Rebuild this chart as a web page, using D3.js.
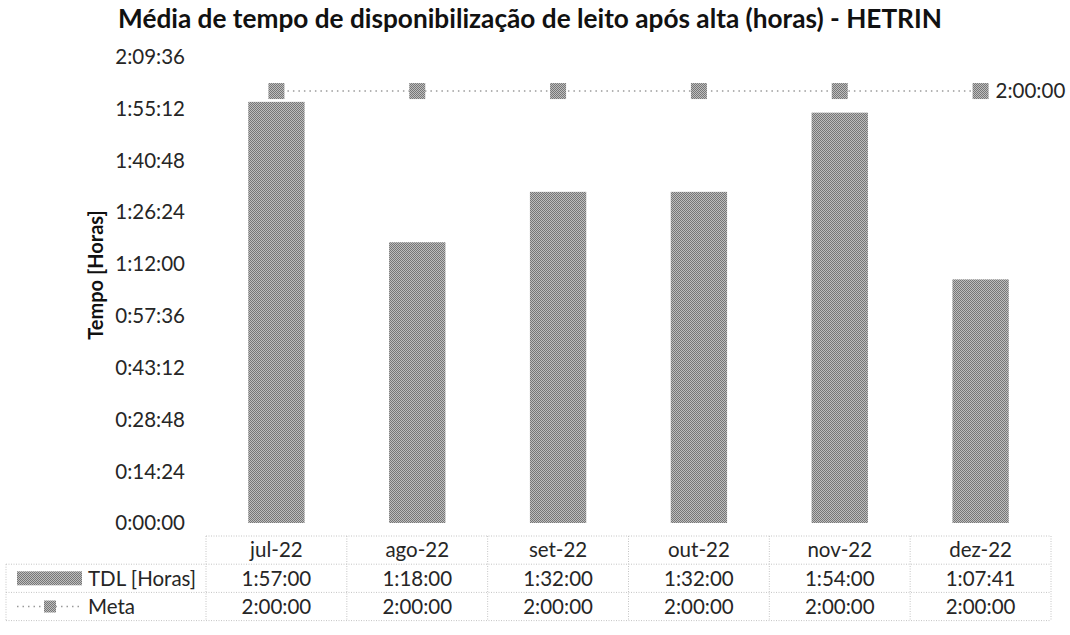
<!DOCTYPE html>
<html>
<head>
<meta charset="utf-8">
<script src="https://cdn.jsdelivr.net/npm/d3@7"></script>
<style>
  html, body { margin: 0; padding: 0; background: #fff; }
  svg { display: block; font-family: Lato, "Open Sans", sans-serif; }
</style>
</head>
<body>
<svg id="chart" width="1070" height="635"></svg>
<script>
// Monthly averages, in seconds
const months = ["jul-22", "ago-22", "set-22", "out-22", "nov-22", "dez-22"];
const tdlSeconds = [7020, 4680, 5520, 5520, 6840, 4061];
const metaSeconds = [7200, 7200, 7200, 7200, 7200, 7200];
const yTickSeconds = [0, 864, 1728, 2592, 3456, 4320, 5184, 6048, 6912, 7776];
const seriesNames = ["TDL [Horas]", "Meta"];

const fmt = s => {
  const h = Math.floor(s / 3600), m = Math.floor((s % 3600) / 60), sec = Math.round(s % 60);
  return h + ":" + String(m).padStart(2, "0") + ":" + String(sec).padStart(2, "0");
};

const svg = d3.select("#chart");
const plotLeft = 206, plotRight = 1051, plotBottom = 523, plotTop = 56.5;
const textColor = "#262626";

// halftone-like fill for bars and markers
const defs = svg.append("defs");
const pat = defs.append("pattern").attr("id", "tone").attr("patternUnits", "userSpaceOnUse")
  .attr("width", 2).attr("height", 2);
pat.append("rect").attr("width", 2).attr("height", 2).attr("fill", "#bdbdbd");
pat.append("rect").attr("width", 1).attr("height", 1).attr("fill", "#767676");
pat.append("rect").attr("x", 1).attr("y", 1).attr("width", 1).attr("height", 1).attr("fill", "#767676");

const x = d3.scaleBand().domain(months).range([plotLeft, plotRight]).paddingInner(0.6).paddingOuter(0.3);
const y = d3.scaleLinear().domain([0, 7776]).range([plotBottom, plotTop]);
const step = x.step();
const colLeft = i => plotLeft + i * step;

// fit a text element to a target width by adjusting font size
function fit(sel, target) {
  const node = sel.node();
  const fs = parseFloat(sel.attr("font-size"));
  const w = node.getComputedTextLength();
  if (w > 0) sel.attr("font-size", (fs * target / w).toFixed(2));
  return sel;
}

// title
fit(svg.append("text").attr("x", 530).attr("y", 28).attr("text-anchor", "middle")
  .attr("font-size", 20).attr("font-weight", "bold").attr("fill", "#111")
  .text("Média de tempo de disponibilização de leito após alta (horas) - HETRIN"), 824);

// y axis
const yAxis = svg.append("g").attr("transform", `translate(${plotLeft - 21},0)`)
  .call(d3.axisLeft(y).tickValues(yTickSeconds).tickFormat(fmt).tickSize(0).tickPadding(0));
yAxis.select(".domain").remove();
yAxis.selectAll("text").attr("font-size", 20.5).attr("fill", textColor)
  .attr("font-family", "Lato, 'Open Sans', sans-serif").attr("dy", "0.34em");

svg.append("text").attr("transform", "translate(103,275) rotate(-90)").attr("text-anchor", "middle")
  .attr("font-size", 20).attr("font-weight", "bold").attr("fill", "#111").text("Tempo [Horas]");

// bars
svg.append("g").selectAll("rect").data(tdlSeconds).join("rect")
  .attr("x", (d, i) => x(months[i])).attr("width", x.bandwidth())
  .attr("y", d => y(d)).attr("height", d => plotBottom - y(d))
  .attr("fill", "url(#tone)");

// target line with markers
const cx = i => x(months[i]) + x.bandwidth() / 2;
svg.append("path").datum(metaSeconds)
  .attr("d", d3.line().x((d, i) => cx(i)).y(d => y(d)))
  .attr("fill", "none").attr("stroke", "#9a9a9a").attr("stroke-width", 1.5).attr("stroke-dasharray", "1.5,4");
svg.append("g").selectAll("rect").data(metaSeconds).join("rect")
  .attr("x", (d, i) => cx(i) - 8).attr("y", d => y(d) - 8).attr("width", 16).attr("height", 16)
  .attr("fill", "url(#tone)");
svg.append("text").attr("x", cx(5) + 15).attr("y", y(metaSeconds[5])).attr("dy", "0.34em")
  .attr("font-size", 20.5).attr("fill", textColor).text(fmt(metaSeconds[5]));

// data table
const rowTop = 536, rowH = 28.2, tableLeft = 6;
const grid = svg.append("g").attr("stroke", "#c4c4c4").attr("stroke-width", 1).attr("stroke-dasharray", "1,1.5");
[0, 1, 2, 3].forEach(r => {
  grid.append("line").attr("x1", r === 0 ? plotLeft : tableLeft).attr("x2", plotRight)
    .attr("y1", rowTop + r * rowH).attr("y2", rowTop + r * rowH);
});
grid.append("line").attr("x1", tableLeft).attr("x2", tableLeft).attr("y1", rowTop + rowH).attr("y2", rowTop + 3 * rowH);
d3.range(months.length + 1).forEach(i => {
  grid.append("line").attr("x1", colLeft(i)).attr("x2", colLeft(i)).attr("y1", rowTop).attr("y2", rowTop + 3 * rowH);
});

const rows = [months, tdlSeconds.map(fmt), metaSeconds.map(fmt)];
rows.forEach((vals, r) => {
  svg.append("g").selectAll("text").data(vals).join("text")
    .attr("x", (d, i) => colLeft(i) + step / 2).attr("y", rowTop + r * rowH + rowH / 2).attr("dy", "0.36em")
    .attr("text-anchor", "middle").attr("font-size", 20.5).attr("fill", textColor).text(d => d);
});

// legend keys in the table
const r1 = rowTop + rowH * 1.5, r2 = rowTop + rowH * 2.5;
svg.append("rect").attr("x", 17).attr("y", r1 - 7).attr("width", 65).attr("height", 14).attr("fill", "url(#tone)");
svg.append("text").attr("x", 88).attr("y", r1).attr("dy", "0.36em").attr("font-size", 20.5).attr("fill", textColor).text(seriesNames[0]);
svg.append("line").attr("x1", 17).attr("x2", 82).attr("y1", r2).attr("y2", r2)
  .attr("stroke", "#9a9a9a").attr("stroke-width", 1.5).attr("stroke-dasharray", "1.5,4");
svg.append("rect").attr("x", 44).attr("y", r2 - 6).attr("width", 12).attr("height", 12).attr("fill", "url(#tone)");
svg.append("text").attr("x", 88).attr("y", r2).attr("dy", "0.36em").attr("font-size", 20.5).attr("fill", textColor).text(seriesNames[1]);
</script>
</body>
</html>
